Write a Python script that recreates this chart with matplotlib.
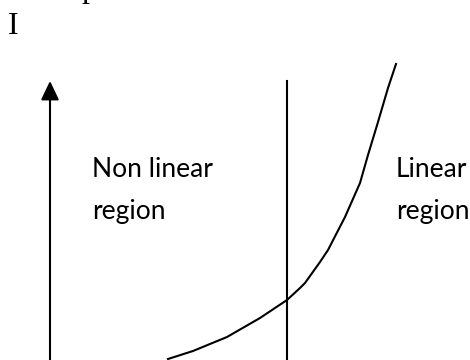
import matplotlib
matplotlib.use('Agg')
import matplotlib.pyplot as plt

# curve (pixel coords, y grows downward)
curve_x = [168, 193, 227, 260, 287, 300, 305, 320, 328, 345, 360, 368, 378, 388, 396]
curve_y = [359, 351, 337, 318, 300, 288, 283, 262, 250, 217, 183, 155, 122, 88, 64]

divider_x = 287
divider_top = 81
axis_x = 50
axis_top = 81

left_label = ['Non linear', 'region']
right_label = ['Linear', 'region']

fig = plt.figure(figsize=(4.7, 3.6), dpi=100)
ax = fig.add_axes([0, 0, 1, 1])
ax.set_xlim(0, 470)
ax.set_ylim(360, 0)
ax.axis('off')

# up arrow (current axis)
ax.annotate('', xy=(axis_x, axis_top), xytext=(axis_x, 362),
            arrowprops=dict(arrowstyle='-|>,head_length=1.15,head_width=0.55',
                            lw=1.5, color='black', mutation_scale=10,
                            shrinkA=0, shrinkB=0))

# boundary between the two regions
ax.plot([divider_x, divider_x], [divider_top, 362], color='black', lw=1.5)

# characteristic curve
ax.plot(curve_x, curve_y, color='black', lw=1.5, solid_joinstyle='round')

ax.text(8, 34, 'I', family='Liberation Serif', fontsize=23, va='baseline')
ax.text(81, -3, 'p', family='Liberation Serif', fontsize=23, va='baseline')

for i, line in enumerate(left_label):
    ax.text(92, 177 + 42 * i, line, family='Lato', fontsize=19, va='baseline')
for i, line in enumerate(right_label):
    ax.text(396, 177 + 42 * i, line, family='Lato', fontsize=19, va='baseline')

plt.savefig('out.png', dpi=100)
